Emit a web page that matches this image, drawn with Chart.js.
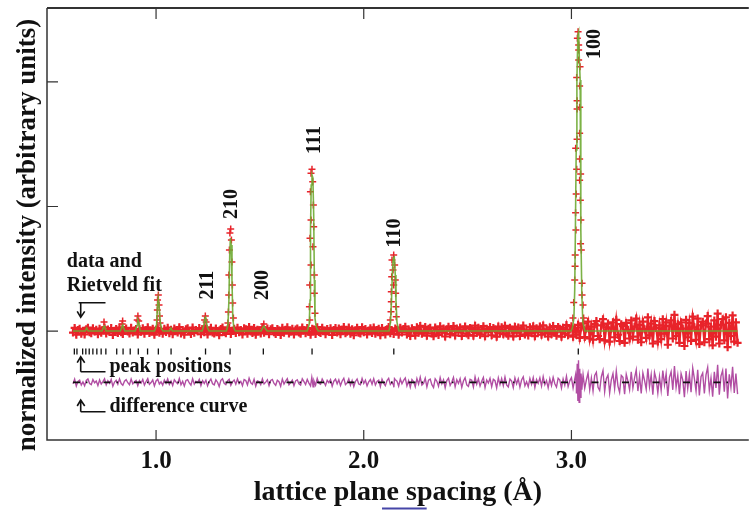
<!DOCTYPE html>
<html>
<head>
<meta charset="utf-8">
<script src="https://cdn.jsdelivr.net/npm/chart.js@4.4.1/dist/chart.umd.min.js"></script>
<style>
  html, body { margin: 0; padding: 0; background: #fff; }
  canvas { display: block; }
</style>
</head>
<body>
<canvas id="rietveld" width="755" height="510"></canvas>
<script>
// ---- data -------------------------------------------------------------
// observed points on a regular d grid, intensities relative to the calc baseline
const obsStartD = 0.600;
const obsStepD = 0.008;
const obsNoise = [
  -12, 25, -30, 8, 18, -22, 3, -28, 15, 27, -9, -18, 22, -4, 11, -26, 19, -14, 6, 29,
  -20, 13, -7, 24, -31, 2, 17, -15, 28, -10, -24, 9, 21, -3, -19, 26, -12, 5, 16, -27,
  14, -6, 23, -21, 7, 30, -16, -2, 19, -29, 11, 25, -13, 4, -22, 18, -8, 27, -17, 10,
  -25, 20, 3, -11, 31, -19, 8, -30, 15, 22, -5, -23, 28, -14, 9, -1, 24, -26, 13, -9,
  18, -28, 6, 26, -12, -20, 21, 1, -33, 16, 29, -7, -18, 12, 24, -24, 4, 19, -15, 27,
  -10, 8, -27, 22, 14, -21, 33, -4, -16, 25, -30, 11, 7, -19, 28, -13, 2, 20, -26, 15,
  23, -9, -24, 17, 5, -32, 26, -14, 10, 30, -20, -3, 18, -27, 12, 21, -11, -22, 29, 6,
  -17, 24, -6, -29, 19, 13, -23, 31, -8, -15, 27, 3, -25, 16, -2, 22, -31, 9, 25, -12,
  20, -26, 11, 33, -18, -5, 28, -22, 14, -34, 7, 26, -13, -20, 31, -9, 17, -28, 4, 23,
  -15, 29, -21, 8, 18, -33, 25, -6, -27, 14, 32, -17, 2, -24, 21, 10, -30, 27, -11, 16,
  35, -28, 12, -40, 22, 6, -35, 30, -14, 41, -22, -8, 33, -37, 18, 26, -19, -42, 28, 9,
  -31, 38, -12, 20, -44, 15, 34, -25, 3, 40, -36, 21, -9, 29, -40, 11, 37, -20, -33, 25,
  17, -38, 43, -15, 27, -29, 8, 39, -42, 19, -6, 32, -34, 24, 13, -45, 36, -18, 30, -26,
  42, -21, -37, 26, 10, -43, 35, -12, 28, -39, 19, 44, -27, 5, -35, 31, -16, 38, -41, 22,
  -8, 36, -30, 45, -19, 14, -44, 29, -25, 40, -11, -38, 33, 18, -46, 27, -22, 48, -34, 12,
  38, -45, 25, -30, 50, -55, 30, 62, -48, 20, 75, -60, 35, -70, 55, 80, -40, -65, 45, 95,
  -75, 30, 60, -85, 20, 70, -50, 90, -30, -80, 55, 40, -95, 65, 10, -60, 85, -45, 35, 100,
  -70, 50, -90, 75, 15, -55, 110, -35, 60, -100, 80, 25, -85, 45, -65, 95, -20, 70, -110, 40,
  85, -60, 130, -40, 55, -95, 70, 20, -120, 90, -50, 65, -80, 115, 30, -70, 100, -105, 45, 75,
  -90, 60, 120, -65, 35, -115, 85, -45, 140, -100, 50, 95, -75, 110, -130, 65, -40, 125, -85, 70,
  -95
];

// observed points sitting on the Bragg peaks
const peakObsD = [
  3.0320, 3.0286, 3.0348, 3.0348, 3.0348, 3.0415, 3.0253, 3.0396, 3.0272, 3.0396, 3.0272, 3.0396,
  3.0272, 3.0205, 3.0396, 3.0253, 3.0444, 3.0396, 3.0229, 3.0430, 3.0200, 3.0215, 3.0453, 3.0440,
  3.0181, 3.0477, 3.0175, 3.0158, 3.0511, 3.0110, 3.0511, 3.0558, 3.0072, 3.0587,
  2.1442, 2.1360, 2.1489, 2.1408, 2.1346, 2.1518, 2.1442, 2.1327, 2.1537, 2.1327, 2.1551, 2.1313, 2.1566, 2.1279,
  1.7508, 1.7461, 1.7542, 1.7432, 1.7575, 1.7461, 1.7590, 1.7413, 1.7556, 1.7461, 1.7623, 1.7399, 1.7623,
  1.7384, 1.7652, 1.7399,
  1.3594, 1.3556, 1.3628, 1.3532, 1.3652, 1.3508, 1.3675, 1.3499, 1.3690, 1.3484, 1.3723, 1.3461,
  1.0110, 1.0072, 1.0143, 1.0062, 1.0167, 1.0048, 1.0191,
  1.2372, 1.2339, 1.2411, 1.2329,
  1.5189, 1.5155,
  0.9126, 0.9093, 0.9165,
  0.8391, 0.8368,
  0.7494
];
const peakObsI = [
  2404, 2351, 2297, 2257, 2177, 2123, 2035, 1968, 1850, 1797, 1783, 1588,
  1540, 1467, 1382, 1299, 1261, 1210, 1100, 1050, 950, 811, 892, 700,
  610, 650, 520, 410, 383, 230, 289, 209, 104, 104,
  610, 570, 530, 490, 436, 410, 369, 316, 303, 235, 195, 155, 115, 88,
  1299, 1267, 1199, 1119, 1012, 892, 838, 745, 677, 530, 450, 369, 303,
  195, 142, 88,
  819, 787, 731, 651, 554, 450, 369, 289, 225, 153, 104, 64,
  289, 249, 209, 169, 120, 88, 64,
  120, 88, 72, 40,
  56, 32,
  120, 88, 80,
  80, 56,
  72
];

// calculated (Rietveld fit) profile vertices
const calcD = [
  0.600,
  0.6587, 0.6659, 0.6730,
  0.7399, 0.7470, 0.7518, 0.7589,
  0.8282, 0.8358, 0.8396, 0.8439, 0.8496,
  0.8998, 0.9093, 0.9126, 0.9179, 0.9236,
  0.9928, 1.0024, 1.0072, 1.0105, 1.0143, 1.0191, 1.0263, 1.0334,
  1.0644, 1.0716, 1.0788,
  1.2220, 1.2306, 1.2353, 1.2387, 1.2425, 1.2482, 1.2554,
  1.3389, 1.3461, 1.3508, 1.3547, 1.3580, 1.3618, 1.3656, 1.3695, 1.3747, 1.3819,
  1.5060, 1.5155, 1.5203, 1.5274, 1.5346,
  1.7279, 1.7375, 1.7413, 1.7437, 1.7470, 1.7508, 1.7551, 1.7590, 1.7623, 1.7652, 1.7709, 1.7804,
  2.1217, 2.1289, 2.1336, 2.1384, 2.1422, 2.1470, 2.1518, 2.1551, 2.1599, 2.1695,
  2.9976, 3.0048, 3.0119, 3.0158, 3.0191, 3.0229, 3.0263, 3.0310, 3.0348, 3.0382, 3.0420, 3.0444,
  3.0460, 3.0501, 3.0549, 3.0644,
  3.800
];
const calcI = [
  0,
  0, 24, 0,
  0, 32, 40, 0,
  0, 32, 48, 24, 0,
  0, 48, 88, 64, 0,
  0, 48, 209, 265, 217, 88, 16, 0,
  0, 24, 0,
  0, 48, 104, 112, 72, 24, 0,
  0, 48, 249, 610, 747, 691, 410, 104, 24, 0,
  0, 32, 40, 16, 0,
  0, 56, 249, 811, 1173, 1253, 1229, 932, 410, 104, 32, 0,
  0, 72, 249, 490, 586, 594, 450, 249, 72, 0,
  0, 24, 104, 329, 811, 1454, 2016, 2377, 2402, 2177, 2016, 1454,
  811, 289, 72, 0,
  0
];

// extra difference values where the fit misses the peak shape
const diffSpikeD = [1.7500, 1.7560, 2.1450, 2.1480, 3.0200, 3.0240, 3.0280, 3.0310, 3.0340, 3.0370, 3.0400, 3.0430, 3.0460, 3.0500];
const diffSpikeV = [40, -35, -40, 30, 60, -90, 150, -150, 178, -160, 110, -120, 70, -60];
const diffOffset = -412;

// reflection positions (simple cubic, a = 3.033 A)
const reflD = [3.0330, 2.1447, 1.7511, 1.5165, 1.3564, 1.2382, 1.0723, 1.0110, 0.9591, 0.9145, 0.8756,
  0.8412, 0.8106, 0.7583, 0.7356, 0.7149, 0.6958, 0.6782, 0.6619, 0.6466, 0.6191, 0.6066];
const reflI = -165;

const peakLabels = ['100', '111', '210', '110', '211', '200'];
const peakLabelD = [3.1140, 1.7640, 1.3630, 2.1480, 1.2470, 1.5130];
const peakLabelI = [2305, 1534, 1020, 787, 369, 369];

const noteText = ['data and', 'Rietveld fit', 'peak positions', 'difference curve'];
const noteD = [0.5704, 0.5704, 0.7757, 0.7757];
const noteI = [516, 321, -327, -648];

// elbow arrows: horizontal bar level and arrow tip level
const arrowBarI = [227, -327, -648];
const arrowTipI = [110, -206, -554];
const arrowStemD = 0.6372;
const arrowBarEndD = 0.7566;

const xTicks = [1.0, 2.0, 3.0];
const yTicks = [0, 1000, 2000];

// ---- build point lists ---------------------------------------------------
var bandPts = [];
var diffPts = [];
for (var i = 0; i < obsNoise.length; i++) {
  var d = obsStartD + i * obsStepD;
  bandPts.push({ x: d, y: obsNoise[i] });
  diffPts.push({ x: d, y: obsNoise[i] + diffOffset });
}
var peakPts = peakObsD.map(function (d, i) { return { x: d, y: peakObsI[i] }; });
for (var i = 0; i < diffSpikeD.length; i++) {
  diffPts.push({ x: diffSpikeD[i], y: diffSpikeV[i] + diffOffset });
}
diffPts.sort(function (a, b) { return a.x - b.x; });

var calcPts = calcD.map(function (d, i) { return { x: d, y: calcI[i] }; });
var reflPts = reflD.map(function (d) { return { x: d, y: reflI }; });
var lastD = obsStartD + (obsNoise.length - 1) * obsStepD;

const serif = '"Liberation Serif", "Times New Roman", serif';
const obsRed = '#e8232a';

// frame, inward ticks, labels and arrows
const rietveldDecor = {
  id: 'rietveldDecor',
  afterDatasetsDraw(chart) {
    const ctx = chart.ctx;
    const a = chart.chartArea;
    const x = chart.scales.x;
    const y = chart.scales.y;
    ctx.save();

    ctx.strokeStyle = '#333';
    ctx.lineWidth = 2;
    ctx.beginPath();
    ctx.moveTo(a.right, a.top);
    ctx.lineTo(a.left, a.top);
    ctx.stroke();
    ctx.lineWidth = 1.5;
    ctx.beginPath();
    ctx.moveTo(a.left, a.top);
    ctx.lineTo(a.left, a.bottom);
    ctx.lineTo(a.right, a.bottom);
    ctx.stroke();

    ctx.lineWidth = 1.2;
    ctx.beginPath();
    xTicks.forEach(function (v) {
      var px = x.getPixelForValue(v);
      ctx.moveTo(px, a.top); ctx.lineTo(px, a.top + 11);
      ctx.moveTo(px, a.bottom); ctx.lineTo(px, a.bottom - 10);
    });
    yTicks.forEach(function (v) {
      var py = y.getPixelForValue(v);
      ctx.moveTo(a.left, py); ctx.lineTo(a.left + 11, py);
    });
    ctx.stroke();

    // y axis title
    ctx.fillStyle = '#111';
    ctx.font = 'bold 27px ' + serif;
    ctx.textAlign = 'center';
    ctx.textBaseline = 'middle';
    ctx.save();
    ctx.translate(a.left - 19, (a.top + a.bottom) / 2 + 11);
    ctx.rotate(-Math.PI / 2);
    ctx.fillText('normalized intensity (arbitrary units)', 0, 0);
    ctx.restore();

    // hkl labels
    ctx.font = 'bold 20px ' + serif;
    peakLabels.forEach(function (t, i) {
      ctx.save();
      ctx.translate(x.getPixelForValue(peakLabelD[i]), y.getPixelForValue(peakLabelI[i]));
      ctx.rotate(-Math.PI / 2);
      ctx.fillText(t, 0, 0);
      ctx.restore();
    });

    // legend notes
    ctx.textAlign = 'left';
    ctx.textBaseline = 'alphabetic';
    noteText.forEach(function (t, i) {
      ctx.fillText(t, x.getPixelForValue(noteD[i]), y.getPixelForValue(noteI[i]));
    });

    ctx.strokeStyle = '#111';
    ctx.lineWidth = 1.6;
    var sx = x.getPixelForValue(arrowStemD);
    var ex = x.getPixelForValue(arrowBarEndD);
    arrowBarI.forEach(function (b, i) {
      var by = y.getPixelForValue(b);
      var ty = y.getPixelForValue(arrowTipI[i]);
      var dir = ty > by ? -1 : 1;
      ctx.beginPath();
      ctx.moveTo(i === 0 ? sx - 2 : sx, by);
      ctx.lineTo(ex, by);
      ctx.moveTo(sx, by);
      ctx.lineTo(sx, ty);
      ctx.moveTo(sx - 3.5, ty + dir * 6);
      ctx.lineTo(sx, ty);
      ctx.lineTo(sx + 4, ty + dir * 6);
      ctx.stroke();
    });

    // small blue rule under the axis title
    ctx.strokeStyle = '#4646a8';
    ctx.lineWidth = 2;
    ctx.beginPath();
    ctx.moveTo(x.getPixelForValue(2.088), chart.height - 1.5);
    ctx.lineTo(x.getPixelForValue(2.303), chart.height - 1.5);
    ctx.stroke();

    ctx.restore();
  }
};

new Chart(document.getElementById('rietveld'), {
  type: 'scatter',
  data: {
    datasets: [
      {
        label: 'calc',
        data: calcPts,
        showLine: true,
        borderColor: 'rgba(110,170,50,0.9)',
        borderWidth: 1.6,
        pointRadius: 0,
        order: 1
      },
      {
        label: 'obs',
        data: bandPts,
        showLine: true,
        pointStyle: 'cross',
        pointRadius: 4,
        borderColor: obsRed,
        borderWidth: 2.2,
        order: 2
      },
      {
        label: 'obs peaks',
        data: peakPts,
        showLine: false,
        pointStyle: 'cross',
        pointRadius: 3.5,
        borderColor: obsRed,
        borderWidth: 1.5,
        order: 2
      },
      {
        label: 'zero',
        data: [{ x: obsStartD, y: diffOffset }, { x: lastD, y: diffOffset }],
        showLine: true,
        borderColor: '#111',
        borderWidth: 1.6,
        borderDash: [7, 6, 1.5, 16],
        pointRadius: 0,
        order: 3
      },
      {
        label: 'diff',
        data: diffPts,
        showLine: true,
        borderColor: '#b14ea3',
        borderWidth: 1.4,
        pointRadius: 0,
        order: 4
      },
      {
        label: 'hkl',
        data: reflPts,
        showLine: false,
        pointStyle: 'line',
        rotation: 90,
        pointRadius: 3,
        borderColor: '#111',
        borderWidth: 1.3,
        order: 5
      }
    ]
  },
  options: {
    responsive: false,
    animation: false,
    events: [],
    devicePixelRatio: 1,
    layout: { padding: { left: 47, top: 8, right: 0, bottom: 0 } },
    plugins: {
      legend: { display: false },
      tooltip: { enabled: false }
    },
    scales: {
      x: {
        type: 'linear',
        min: 0.4749,
        max: 3.854,
        afterBuildTicks: function (s) { s.ticks = xTicks.map(function (v) { return { value: v }; }); },
        afterFit: function (s) { s.height = 70; },
        grid: { display: false, drawTicks: false },
        border: { display: false },
        ticks: {
          autoSkip: false,
          maxRotation: 0,
          padding: 7,
          color: '#111',
          font: { family: serif, size: 25, weight: 'bold' },
          callback: function (v) { return v.toFixed(1); }
        },
        title: {
          display: true,
          text: 'lattice plane spacing (Å)',
          color: '#111',
          font: { family: serif, size: 28, weight: 'bold', lineHeight: 1 },
          padding: { top: 0, bottom: 3 }
        }
      },
      y: {
        display: false,
        min: -875,
        max: 2594
      }
    }
  },
  plugins: [rietveldDecor]
});
</script>
</body>
</html>
